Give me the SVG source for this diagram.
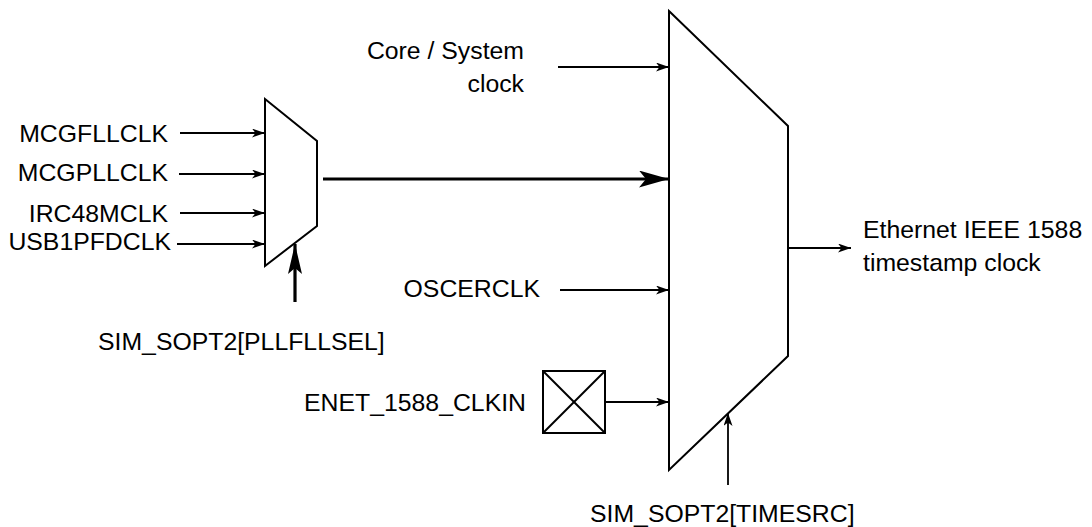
<svg xmlns="http://www.w3.org/2000/svg" width="1092" height="527" viewBox="0 0 1092 527">
  <style>
    .lbl { font-family: "Liberation Sans", Arial, Helvetica, sans-serif; font-size: 24.8px; fill: #000; }
    .shape { fill: #fff; stroke: #000; stroke-width: 2; stroke-linejoin: miter; }
    .thin { stroke: #000; stroke-width: 1.8; fill: none; marker-end: url(#ah); }
    .thick { stroke: #000; stroke-width: 3.2; fill: none; marker-end: url(#ahb); }
    .thickv { stroke: #000; stroke-width: 3.2; fill: none; marker-end: url(#ahv); }
  </style>
  <defs>
    <marker id="ah" markerUnits="userSpaceOnUse" markerWidth="14" markerHeight="10" refX="13" refY="4.5" orient="auto">
      <path d="M0,0 L13,4.5 L0,9 L3.5,4.5 Z" fill="#000"/>
    </marker>
    <marker id="ahb" markerUnits="userSpaceOnUse" markerWidth="32" markerHeight="18" refX="30" refY="8.5" orient="auto">
      <path d="M0,0 L30,8.5 L0,17 L7,8.5 Z" fill="#000"/>
    </marker>
    <marker id="ahv" markerUnits="userSpaceOnUse" markerWidth="32" markerHeight="16" refX="30" refY="7" orient="auto">
      <path d="M0,0 L30,7 L0,14 L6,7 Z" fill="#000"/>
    </marker>
  </defs>

  <g id="mux-pllfll">
    <polygon class="shape" points="265,99 317,141 317,226 265,266"/>
  </g>
  <g id="mux-timesrc">
    <polygon class="shape" points="669,11 788,126 788,356 669,470"/>
  </g>
  <g id="enet-pad">
    <rect class="shape" x="543" y="371" width="62" height="62"/>
    <line x1="543" y1="371" x2="605" y2="433" stroke="#000" stroke-width="2"/>
    <line x1="605" y1="371" x2="543" y2="433" stroke="#000" stroke-width="2"/>
  </g>

  <g id="labels">
    <text class="lbl" x="168" y="142" text-anchor="end">MCGFLLCLK</text>
    <text class="lbl" x="168" y="181" text-anchor="end">MCGPLLCLK</text>
    <text class="lbl" x="168" y="222" text-anchor="end">IRC48MCLK</text>
    <text class="lbl" x="171" y="250" text-anchor="end">USB1PFDCLK</text>
    <text class="lbl" x="98" y="350">SIM_SOPT2[PLLFLLSEL]</text>
    <text class="lbl" x="524" y="59" text-anchor="end">Core / System</text>
    <text class="lbl" x="524" y="92" text-anchor="end">clock</text>
    <text class="lbl" x="540" y="297" text-anchor="end">OSCERCLK</text>
    <text class="lbl" x="526" y="411" text-anchor="end">ENET_1588_CLKIN</text>
    <text class="lbl" x="590" y="522">SIM_SOPT2[TIMESRC]</text>
    <text class="lbl" x="863" y="238">Ethernet IEEE 1588</text>
    <text class="lbl" x="863" y="271">timestamp clock</text>
  </g>

  <g id="connectors">
    <line class="thin" x1="180" y1="133" x2="265" y2="133"/>
    <line class="thin" x1="179" y1="174" x2="265" y2="174"/>
    <line class="thin" x1="180" y1="213" x2="265" y2="213"/>
    <line class="thin" x1="177" y1="244" x2="265" y2="244"/>
    <line class="thickv" x1="295" y1="302" x2="295" y2="244"/>
    <line class="thick" x1="323" y1="179" x2="669" y2="179"/>
    <line class="thin" x1="558" y1="67" x2="669" y2="67"/>
    <line class="thin" x1="560" y1="290" x2="669" y2="290"/>
    <line class="thin" x1="605" y1="402" x2="669" y2="402"/>
    <line class="thin" x1="728" y1="485" x2="728" y2="413"/>
    <line class="thin" x1="788" y1="248" x2="851" y2="248"/>
  </g>
</svg>
